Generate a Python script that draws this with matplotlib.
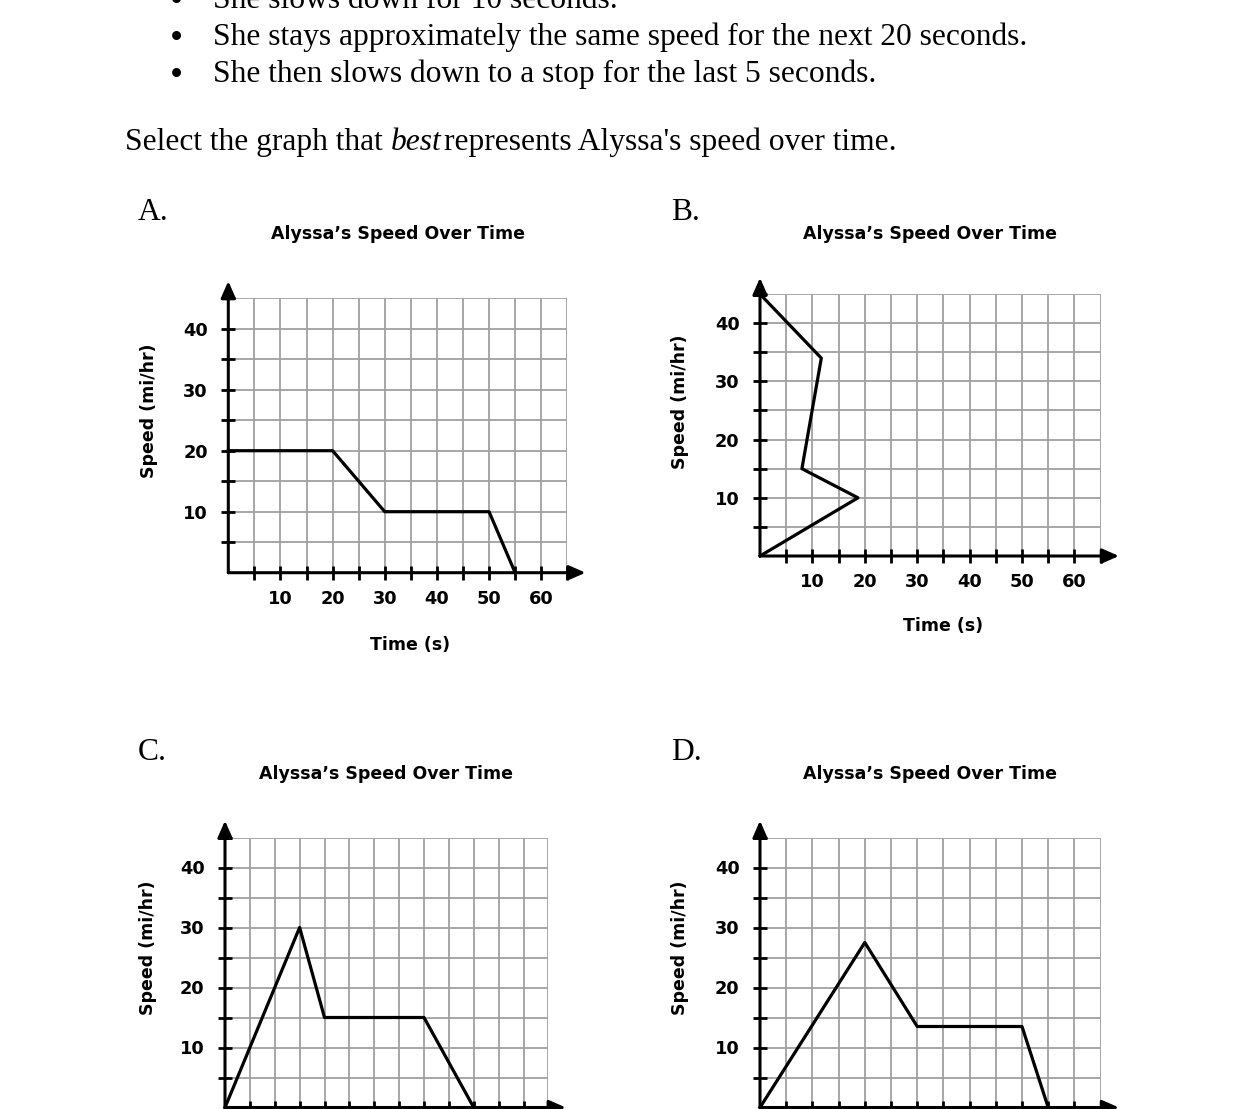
import matplotlib
matplotlib.use('Agg')
import matplotlib.pyplot as plt

# Worksheet text
bullet_lines = ['She slows down for 10 seconds.',
                'She stays approximately the same speed for the next 20 seconds.',
                'She then slows down to a stop for the last 5 seconds.']
question_parts = ['Select the graph that ', 'best', 'represents Alyssa\'s speed over time.']
choice_letters = ['A.', 'B.', 'C.', 'D.']
chart_title = 'Alyssa\u2019s Speed Over Time'
x_title = 'Time (s)'
y_title = 'Speed (mi/hr)'

# axis ticks
x_ticks = list(range(5, 70, 5))
y_ticks = list(range(5, 50, 5))
x_tick_labels = ['' if v % 10 or v > 60 else str(v) for v in x_ticks]
y_tick_labels = ['' if v % 10 or v > 40 else str(v) for v in y_ticks]

# the four graphs (time s, speed mi/hr)
time_a = [0, 20, 30, 50, 55]
speed_a = [20, 20, 10, 10, 0]
time_b = [0, 11.7, 8, 18.7, 0]
speed_b = [45, 34, 15, 10, 0]
time_c = [0, 15, 20, 40, 50]
speed_c = [0, 30, 15, 15, 0]
time_d = [0, 20, 30, 50, 55]
speed_d = [0, 27.5, 13.5, 13.5, 0]

W, H = 1251, 1109
fig = plt.figure(figsize=(W / 100, H / 100), dpi=100)
fig.patch.set_facecolor('white')

SERIF = 'Liberation Serif'
SANS = 'DejaVu Sans'
SERIF_SIZE = 22.7


def fx(x):
    return x / W


def fy(y):
    return 1 - y / H


def draw_panel(ox, oy, sx, sy, times, speeds, show_xlabels=True):
    ax = fig.add_axes([fx(ox), fy(oy), 65 * sx / W, 45 * sy / H])
    ax.set_xlim(0, 65)
    ax.set_ylim(0, 45)
    ax.patch.set_alpha(0)
    for s in ax.spines.values():
        s.set_visible(False)

    # grid
    ax.vlines(x_ticks, 0, 45, color='#a0a0a0', lw=1.3, zorder=1)
    ax.hlines(y_ticks, 0, 65, color='#a0a0a0', lw=1.3, zorder=1)

    ax.plot(times, speeds, color='black', lw=2.3, clip_on=False, zorder=3)

    # axes with arrows
    arrow = dict(arrowstyle='-|>,head_length=0.5,head_width=0.22', color='black',
                 lw=2.2, mutation_scale=20, shrinkA=0, shrinkB=0)
    ax.annotate('', xy=(68.5, 0), xytext=(0, 0), arrowprops=arrow,
                annotation_clip=False, zorder=4)
    ax.annotate('', xy=(0, 47.8), xytext=(0, 0), arrowprops=arrow,
                annotation_clip=False, zorder=4)

    ax.set_xticks(x_ticks)
    if show_xlabels:
        ax.set_xticklabels(x_tick_labels, fontweight='bold', family=SANS)
    else:
        # labels lie below the page edge in the reference
        ax.set_xticklabels([''] * len(x_ticks))
    ax.set_yticks(y_ticks)
    ax.set_yticklabels(y_tick_labels, fontweight='bold', family=SANS)
    ax.tick_params(direction='inout', length=9.5, width=2, labelsize=12.8,
                   colors='black')
    ax.tick_params(axis='x', pad=7.5)
    ax.tick_params(axis='y', pad=10)
    return ax


draw_panel(228.3, 572.7, 5.215, 6.1, time_a, speed_a)
draw_panel(760, 556, 5.24, 5.82, time_b, speed_b)
draw_panel(225, 1107.5, 4.975, 6.0, time_c, speed_c, show_xlabels=False)
draw_panel(760, 1107.5, 5.24, 6.0, time_d, speed_d, show_xlabels=False)

# chart titles, axis titles
for (x, y) in [(398, 234), (930, 234), (386, 774), (930, 774)]:
    fig.text(fx(x), fy(y), chart_title, ha='center', va='center',
             family=SANS, fontweight='bold', fontsize=12.5)
for (x, y) in [(149, 411), (680, 402), (148, 948), (680, 948)]:
    fig.text(fx(x), fy(y), y_title, ha='center', va='center', rotation=90,
             family=SANS, fontweight='bold', fontsize=12.5)
for (x, y) in [(410, 645), (943, 626)]:
    fig.text(fx(x), fy(y), x_title, ha='center', va='center',
             family=SANS, fontweight='bold', fontsize=12.5)

# choice letters
for letter, (x, y) in zip(choice_letters, [(138, 212), (671, 212), (138, 753), (671, 753)]):
    fig.text(fx(x), fy(y), letter, ha='left', va='center', family=SERIF,
             fontsize=SERIF_SIZE)

# bullets (first line is cut by the page edge, as in the reference)
for i, line in enumerate(bullet_lines):
    base = 8.3 + 36.7 * i
    fig.text(fx(176), fy(base + 4), '\u2022', ha='center', va='baseline',
             family=SERIF, fontsize=27)
    fig.text(fx(213), fy(base), line, ha='left', va='baseline',
             family=SERIF, fontsize=SERIF_SIZE)

# question with italic word
renderer = fig.canvas.get_renderer()
x0 = 125
styles = ['normal', 'italic', 'normal']
for part, st in zip(question_parts, styles):
    t = fig.text(fx(x0), fy(150), part, ha='left', va='baseline',
                 family=SERIF, fontsize=SERIF_SIZE, style=st)
    bb = t.get_window_extent(renderer)
    x0 = bb.x1 + (3 if st == 'italic' else 0)

fig.savefig('out.png', dpi=100)
